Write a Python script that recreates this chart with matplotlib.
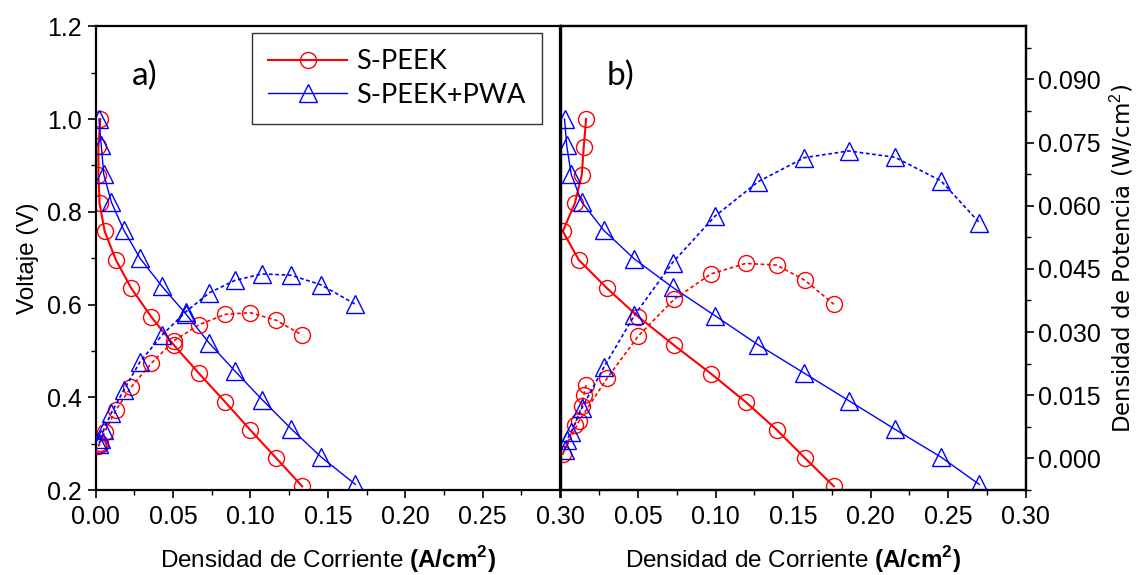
import matplotlib
matplotlib.use("Agg")
import matplotlib.pyplot as plt
from matplotlib.ticker import MultipleLocator, FixedLocator

plt.rcParams['font.family'] = ['Liberation Sans', 'DejaVu Sans']
plt.rcParams['mathtext.fontset'] = 'custom'
plt.rcParams['mathtext.rm'] = 'Liberation Sans'
plt.rcParams['mathtext.bf'] = 'Liberation Sans:bold'

# panel a
i_a_speek = [0.0030, 0.0018, 0.0018, 0.0025, 0.0058, 0.0131, 0.0228, 0.0360, 0.0504, 0.0666, 0.0836, 0.1000, 0.1166, 0.1334]
v_a_speek = [1.000, 0.941, 0.880, 0.819, 0.758, 0.696, 0.636, 0.573, 0.513, 0.452, 0.390, 0.329, 0.269, 0.208]
p_a_speek = [0.0033, 0.0030, 0.0031, 0.0036, 0.0063, 0.0115, 0.0169, 0.0226, 0.0279, 0.0317, 0.0342, 0.0346, 0.0328, 0.0293]

i_a_pwa = [0.0021, 0.0036, 0.0052, 0.0101, 0.0181, 0.0286, 0.0429, 0.0582, 0.0733, 0.0901, 0.1075, 0.1263, 0.1457, 0.1678]
v_a_pwa = [1.000, 0.943, 0.881, 0.821, 0.761, 0.700, 0.639, 0.580, 0.517, 0.456, 0.395, 0.332, 0.271, 0.212]
p_a_pwa = [0.0035, 0.0045, 0.0068, 0.0108, 0.0162, 0.0229, 0.0293, 0.0348, 0.0393, 0.0423, 0.0438, 0.0435, 0.0412, 0.0366]

# panel b
i_b_speek = [0.0165, 0.0150, 0.0137, 0.0092, 0.0015, 0.0118, 0.0300, 0.0500, 0.0733, 0.0970, 0.1194, 0.1394, 0.1576, 0.1763]
v_b_speek = [1.000, 0.940, 0.879, 0.818, 0.758, 0.696, 0.635, 0.574, 0.512, 0.451, 0.390, 0.330, 0.269, 0.208]
p_b_speek = [0.0174, 0.0150, 0.0125, 0.0080, 0.0010, 0.0088, 0.0190, 0.0290, 0.0378, 0.0438, 0.0463, 0.0459, 0.0423, 0.0366]

i_b_pwa = [0.0026, 0.0040, 0.0069, 0.0137, 0.0279, 0.0477, 0.0723, 0.0996, 0.1275, 0.1572, 0.1858, 0.2157, 0.2454, 0.2701]
v_b_pwa = [1.000, 0.943, 0.881, 0.821, 0.760, 0.698, 0.637, 0.576, 0.513, 0.452, 0.393, 0.331, 0.271, 0.212]
p_b_pwa = [0.0020, 0.0043, 0.0063, 0.0119, 0.0216, 0.0340, 0.0465, 0.0575, 0.0657, 0.0714, 0.0730, 0.0715, 0.0659, 0.0560]

labels = ["S-PEEK", "S-PEEK+PWA"]
x_ticks = [0.00, 0.05, 0.10, 0.15, 0.20, 0.25, 0.30]
p_ticks = [0.000, 0.015, 0.030, 0.045, 0.060, 0.075, 0.090]

red = '#ff0000'
blue = '#0000ff'
v_lim = (0.2, 1.2)
p_lim = (-0.0075, 0.1026)
fs = 18
geo = ['Lato', 'DejaVu Sans']

fig = plt.figure(figsize=(11.39, 5.75), dpi=100)
ax1 = fig.add_axes([0.0840, 0.1478, 0.4077, 0.8065])
ax2 = fig.add_axes([0.4921, 0.1478, 0.4084, 0.8065])
ax1p = ax1.twinx()
ax2p = ax2.twinx()

circ = dict(marker='o', ms=11.5, mfc='none', mec=red, mew=1.0)
tri = dict(marker='^', ms=12.5, mfc='none', mec=blue, mew=1.0)
dots = (0, (2.2, 1.6))


def draw(axv, axp, i_s, v_s, p_s, i_w, v_w, p_w):
    l1, = axv.plot(i_s, v_s, color=red, lw=1.5, **circ)
    l2, = axv.plot(i_w, v_w, color=blue, lw=1.0, **tri)
    axp.plot(i_s, p_s, color=red, lw=1.2, ls=dots, **circ)
    axp.plot(i_w, p_w, color=blue, lw=1.2, ls=dots, **tri)
    return l1, l2


h = draw(ax1, ax1p, i_a_speek, v_a_speek, p_a_speek, i_a_pwa, v_a_pwa, p_a_pwa)
draw(ax2, ax2p, i_b_speek, v_b_speek, p_b_speek, i_b_pwa, v_b_pwa, p_b_pwa)

for ax in (ax1, ax2):
    ax.set_xlim(0, 0.30)
    ax.set_ylim(*v_lim)
    ax.xaxis.set_major_locator(FixedLocator(x_ticks))
    ax.xaxis.set_minor_locator(MultipleLocator(0.025))
    ax.tick_params(axis='x', which='major', direction='out', length=6, width=1.2,
                   labelsize=fs, pad=5, top=False)
    ax.tick_params(axis='x', which='minor', direction='out', length=3.5, width=1.0, top=False)
    ax.set_xlabel(r'Densidad de Corriente $\mathbf{(A/cm}^{\mathbf{2}}\mathbf{)}$',
                  fontsize=17.5, labelpad=11)
    for s in ax.spines.values():
        s.set_linewidth(1.6)

ax1.xaxis.set_major_formatter(plt.FuncFormatter(lambda v, p: f"{v:.2f}"))
ax2.xaxis.set_major_formatter(plt.FuncFormatter(lambda v, p: "" if v == 0 else f"{v:.2f}"))

ax1.yaxis.set_major_locator(MultipleLocator(0.2))
ax1.yaxis.set_minor_locator(MultipleLocator(0.1))
ax1.yaxis.set_major_formatter(plt.FuncFormatter(lambda v, p: f"{v:.1f}"))
ax1.tick_params(axis='y', which='major', direction='out', length=6, width=1.2,
                labelsize=fs, pad=4, right=False)
ax1.tick_params(axis='y', which='minor', direction='out', length=3.5, width=1.0, right=False)
ax1.set_ylabel('Voltaje (V)', fontsize=17.5, labelpad=6)

ax2.tick_params(axis='y', which='both', left=False, labelleft=False, right=False)

for axp in (ax1p, ax2p):
    axp.set_ylim(*p_lim)
    axp.set_xlim(0, 0.30)

ax1p.tick_params(axis='y', which='both', right=False, labelright=False)
for s in ax1p.spines.values():
    s.set_visible(False)

ax2p.yaxis.set_major_locator(FixedLocator(p_ticks))
ax2p.yaxis.set_minor_locator(MultipleLocator(0.0075))
ax2p.yaxis.set_major_formatter(plt.FuncFormatter(lambda v, p: f"{v:.3f}"))
ax2p.tick_params(axis='y', which='major', direction='out', length=6, width=1.2,
                 labelsize=fs, pad=3)
ax2p.tick_params(axis='y', which='minor', direction='out', length=3.5, width=1.0)
ax2p.set_ylabel('Densidad de Potencia (W/cm$^{2}$)', fontsize=16.5,
                family=['DejaVu Sans'])
ax2p.yaxis.set_label_coords(1.178, 0.5)
for s in ax2p.spines.values():
    s.set_linewidth(1.6)

ax1.text(0.106, 0.893, 'a)', transform=ax1.transAxes, fontsize=24,
         family=geo, ha='center', va='center')
ax2.text(0.128, 0.893, 'b)', transform=ax2.transAxes, fontsize=24,
         family=geo, ha='center', va='center')

leg = ax1.legend(h, labels, loc='upper right', bbox_to_anchor=(0.961, 0.985),
                 prop={'family': geo, 'size': 19.5},
                 frameon=True, fancybox=False, handlelength=2.9,
                 borderpad=0.6, labelspacing=0.3, handletextpad=0.35,
                 borderaxespad=0.0)
leg.get_frame().set_edgecolor('black')
leg.get_frame().set_linewidth(1.0)

fig.savefig('out.png', dpi=100)
